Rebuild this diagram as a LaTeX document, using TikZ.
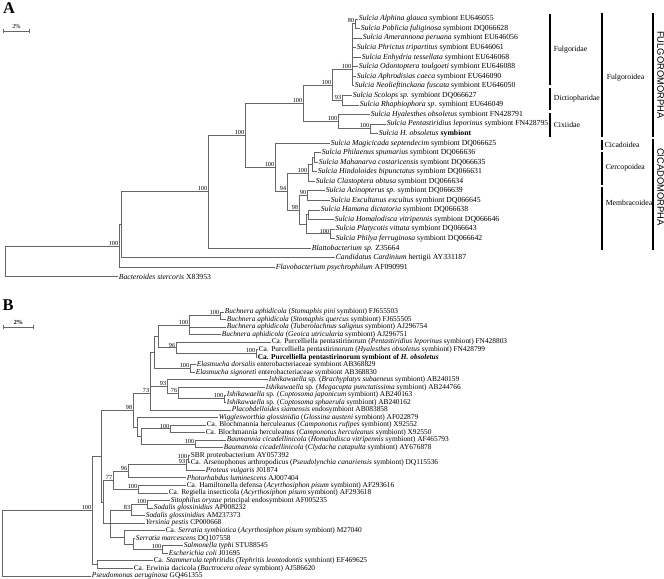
\documentclass[tikz,border=0pt]{standalone}
\usepackage{fontspec}
\setmainfont{Liberation Serif}
\setsansfont{Liberation Sans}
\usetikzlibrary{arrows.meta}

\tikzset{
  tree/.style={draw=black!60, line width=0.7pt},
  leafA/.style={anchor=west, inner sep=0.5pt, font=\fontsize{6.6}{6.6}\selectfont},
  leafB/.style={anchor=west, inner sep=0.5pt, font=\fontsize{6.3}{6.3}\selectfont},
  boot/.style={inner sep=0.5pt, font=\fontsize{5.3}{5.3}\selectfont},
  bar/.style={line width=1.6pt},
  cladename/.style={anchor=west, inner sep=0.5pt, font=\fontsize{6.6}{7}\selectfont},
  order/.style={rotate=-90, inner sep=0pt, font=\sffamily\fontsize{8}{8}\selectfont},
  panel/.style={inner sep=0pt, font=\bfseries\fontsize{14}{14}\selectfont}
}

\begin{document}
\begin{tikzpicture}[x=0.3mm, y=-0.3mm]
  \useasboundingbox (0,0) rectangle (664,579);

  % ---------- panel A ----------
  \node[panel] (labA) at (9,8) {A};
  \draw[tree, {Bar[width=4pt]}-{Bar[width=4pt]}] (3,31) -- (30,31) node[midway, above=1pt, boot] (scaleA) {2\%};

  \node[leafA] (a01) at (358,19.0) {\textit{Sulcia Alphina glauca} symbiont EU646055};
  \node[leafA] (a02) at (360,28.6) {\textit{Sulcia Poblicia fuliginosa} symbiont DQ066628};
  \node[leafA] (a03) at (362,38.1) {\textit{Sulcia Amerannona peruana} symbiont EU646056};
  \node[leafA] (a04) at (356,47.7) {\textit{Sulcia Phrictus tripartitus} symbiont EU646061};
  \node[leafA] (a05) at (361,57.2) {\textit{Sulcia Enhydria tessellata} symbiont EU646068};
  \node[leafA] (a06) at (358,66.8) {\textit{Sulcia Odontoptera toulgoeti} symbiont EU646088};
  \node[leafA] (a07) at (356,76.3) {\textit{Sulcia Aphrodisias caeca} symbiont EU646090};
  \node[leafA] (a08) at (354,85.9) {\textit{Sulcia Neolieftinckana fuscata} symbiont EU646050};
  \node[leafA] (a09) at (352,95.4) {\textit{Sulcia Scolops sp.} symbiont DQ066627};
  \node[leafA] (a10) at (359,105.0) {\textit{Sulcia Rhaphiophora sp.} symbiont EU646049};
  \node[leafA] (a11) at (370,114.5) {\textit{Sulcia Hyalesthes obsoletus} symbiont FN428791};
  \node[leafA] (a12) at (386,124.1) {\textit{Sulcia Pentastiridius leporinus} symbiont FN428795};
  \node[leafA] (a13) at (378,133.6) {\textit{Sulcia H. obsoletus} \textbf{symbiont}};
  \node[leafA] (a14) at (330,143.2) {\textit{Sulcia Magicicada septendecim} symbiont DQ066625};
  \node[leafA] (a15) at (321,152.7) {\textit{Sulcia Philaenus spumarius} symbiont DQ066636};
  \node[leafA] (a16) at (318,162.3) {\textit{Sulcia Mahanarva costaricensis} symbiont DQ066635};
  \node[leafA] (a17) at (317,171.8) {\textit{Sulcia Hindoloides bipunctatus} symbiont DQ066631};
  \node[leafA] (a18) at (315,181.4) {\textit{Sulcia Clastoptera obtusa} symbiont DQ066634};
  \node[leafA] (a19) at (325,190.9) {\textit{Sulcia Acinopterus sp.} symbiont DQ066639};
  \node[leafA] (a20) at (330,200.5) {\textit{Sulcia Excultanus excultus} symbiont DQ066645};
  \node[leafA] (a21) at (320,210.0) {\textit{Sulcia Hamana dictatoria} symbiont DQ066638};
  \node[leafA] (a22) at (334,219.6) {\textit{Sulcia Homalodisca vitripennis} symbiont DQ066646};
  \node[leafA] (a23) at (335,229.1) {\textit{Sulcia Platycotis vittata} symbiont DQ066643};
  \node[leafA] (a24) at (335,238.7) {\textit{Sulcia Philya ferruginosa} symbiont DQ066642};
  \node[leafA] (a25) at (311,248.2) {\textit{Blattobacterium sp.} Z35664};
  \node[leafA] (a26) at (335,257.8) {\textit{Candidatus Cardinium} hertigii AY331187};
  \node[leafA] (a27) at (275,267.3) {\textit{Flavobacterium psychrophilum} AF090991};
  \node[leafA] (a28) at (118,276.9) {\textit{Bacteroides stercoris} X83953};

  \coordinate[label={[boot]above left:80}] (n80) at (355,23.8);
  \coordinate[label={[boot]above left:100}] (nFul) at (352,69);
  \coordinate[label={[boot]above left:93}] (nDic) at (342,100.2);
  \coordinate[label={[boot]above left:100}] (nFD) at (332,85);
  \coordinate[label={[boot]above left:100}] (nCix2) at (370,128.8);
  \coordinate[label={[boot]above left:100}] (nCix) at (338,121.7);
  \coordinate[label={[boot]above left:100}] (nFulgo) at (303,103.3);
  \coordinate (nP1) at (314,157.5);
  \coordinate (nP2) at (312,164.6);
  \coordinate[label={[boot]above left:100}] (nCer) at (308,173);
  \coordinate[label={[boot]above left:90}] (n90) at (307,195.7);
  \coordinate (nHam) at (308,214.8);
  \coordinate[label={[boot]above left:100}] (nPla) at (330,233.9);
  \coordinate (nHP) at (306,224.3);
  \coordinate[label={[boot]above left:98}] (n98) at (299,210);
  \coordinate[label={[boot]above left:94}] (n94) at (287,191.5);
  \coordinate[label={[boot]above left:100}] (nCic) at (275,167.3);
  \coordinate[label={[boot]above left:100}] (nSul) at (245,135.3);
  \coordinate[label={[boot]above left:100}] (nSB) at (208,191.8);
  \coordinate (nSBC) at (121,224.8);
  \coordinate[label={[boot]above left:100}] (nSBCF) at (119,246);
  \coordinate (nRootA) at (5,261.4);

  \foreach \p/\c in {n80/a01.west, n80/a02.west, nFul/n80, nFul/a03.west, nFul/a04.west,
      nFul/a05.west, nFul/a06.west, nFul/a07.west, nFul/a08.west, nDic/a09.west, nDic/a10.west,
      nFD/nFul, nFD/nDic, nCix2/a12.west, nCix2/a13.west, nCix/a11.west, nCix/nCix2,
      nFulgo/nFD, nFulgo/nCix, nP1/a15.west, nP1/a16.west, nP2/nP1, nP2/a17.west,
      nCer/nP2, nCer/a18.west, n90/a19.west, n90/a20.west, nHam/a21.west, nHam/a22.west,
      nPla/a23.west, nPla/a24.west, nHP/nHam, nHP/nPla, n98/n90, n98/nHP, n94/nCer, n94/n98,
      nCic/a14.west, nCic/n94, nSul/nFulgo, nSul/nCic, nSB/nSul, nSB/a25.west,
      nSBC/nSB, nSBC/a26.west, nSBCF/nSBC, nSBCF/a27.west, nRootA/nSBCF, nRootA/a28.west}
    \draw[tree] (\p) |- (\c);

  % clade bars
  \draw[bar] (550,14) -- (550,85);
  \node[cladename] (cFulgoridae) at (553,49.5) {Fulgoridae};
  \draw[bar] (550,88) -- (550,110);
  \node[cladename] (cDictio) at (553,99) {Dictiopharidae};
  \draw[bar] (550,113) -- (550,137);
  \node[cladename] (cCixi) at (553,125) {Cixiidae};
  \draw[bar] (602,13) -- (602,137);
  \node[cladename] (cFulgoroidea) at (606,78) {Fulgoroidea};
  \draw[bar] (602,140) -- (602,150);
  \node[cladename] (cCicadoidea) at (604,145) {Cicadoidea};
  \draw[bar] (602,152) -- (602,185);
  \node[cladename] (cCercopoidea) at (605,168) {Cercopoidea};
  \draw[bar] (602,187) -- (602,250);
  \node[cladename] (cMembracoidea) at (605,203) {Membracoidea};
  \draw[bar] (653,13) -- (653,137);
  \node[order] (oFulgoro) at (660.5,75) {FULGOROMORPHA};
  \draw[bar] (653,139) -- (653,250);
  \node[order] (oCicado) at (660.5,187) {CICADOMORPHA};

  % ---------- panel B ----------
  \node[panel] (labB) at (8,305) {B};
  \draw[tree, {Bar[width=4pt]}-{Bar[width=4pt]}] (3,327) -- (34,327) node[midway, above=1pt, boot, font=\bfseries\fontsize{5.3}{5.3}\selectfont] (scaleB) {2\%};

  \node[leafB] (b01) at (224,312.0) {\textit{Buchnera aphidicola} (\textit{Stomaphis pini} symbiont) FJ655503};
  \node[leafB] (b02) at (226,319.5) {\textit{Buchnera aphidicola} (\textit{Stomaphis quercus} symbiont) FJ655505};
  \node[leafB] (b03) at (226,327.1) {\textit{Buchnera aphidicola} (\textit{Tuberolachnus salignus} symbiont) AJ296754};
  \node[leafB] (b04) at (221,334.6) {\textit{Buchnera aphidicola} (\textit{Geoica utricularia} symbiont) AJ296751};
  \node[leafB] (b05) at (271,342.2) {Ca. Purcelliella pentastirinorum (\textit{Pentastiridius leporinus} symbiont) FN428803};
  \node[leafB] (b06) at (258,349.7) {Ca. Purcelliella pentastirinorum (\textit{Hyalesthes obsoletus} symbiont) FN428799};
  \node[leafB] (b07) at (257,357.3) {\textbf{Ca. Purcelliella pentastirinorum symbiont of \textit{H. obsoletus}}};
  \node[leafB] (b08) at (196,364.8) {\textit{Elasmucha dorsalis} enterobacteriaceae symbiont AB368829};
  \node[leafB] (b09) at (195,372.3) {\textit{Elasmucha signoreti} enterobacteriaceae symbiont AB368830};
  \node[leafB] (b10) at (268,379.9) {\textit{Ishikawaella} sp. (\textit{Brachyplatys subaeneus} symbiont) AB240159};
  \node[leafB] (b11) at (265,387.4) {\textit{Ishikawaella} sp. (\textit{Megacopta punctatissima} symbiont) AB244766};
  \node[leafB] (b12) at (226,395.0) {\textit{Ishikawaella} sp. (\textit{Coptosoma japonicum} symbiont) AB240163};
  \node[leafB] (b13) at (226,402.5) {\textit{Ishikawaella} sp. (\textit{Coptosoma sphaerula} symbiont) AB240162};
  \node[leafB] (b14) at (231,410.1) {\textit{Placobdelloides siamensis} endosymbiont AB083858};
  \node[leafB] (b15) at (218,417.6) {\textit{Wigglesworthia glossinidia} (\textit{Glossina austeni} symbiont) AF022879};
  \node[leafB] (b16) at (206,425.1) {Ca. Blochmannia herculeanus (\textit{Camponotus rufipes} symbiont) X92552};
  \node[leafB] (b17) at (205,432.7) {Ca. Blochmannia herculeanus (\textit{Camponotus herculeanus} symbiont) X92550};
  \node[leafB] (b18) at (226,440.2) {\textit{Baumannia cicadellinicola} (\textit{Homalodisca vitripennis} symbiont) AF465793};
  \node[leafB] (b19) at (223,447.8) {\textit{Baumannia cicadellinicola} (\textit{Clydacha catapulta} symbiont) AY676878};
  \node[leafB] (b20) at (190,455.3) {SBR proteobacterium AY057392};
  \node[leafB] (b21) at (190,462.9) {Ca. Arsenophonus arthropodicus (\textit{Pseudolynchia canariensis} symbiont) DQ115536};
  \node[leafB] (b22) at (205,470.4) {\textit{Proteus vulgaris} J01874};
  \node[leafB] (b23) at (186,477.9) {\textit{Photorhabdus luminescens} AJ007404};
  \node[leafB] (b24) at (186,485.5) {Ca. Hamiltonella defensa (\textit{Acyrthosiphon pisum} symbiont) AF293616};
  \node[leafB] (b25) at (168,493.0) {Ca. Regiella insecticola (\textit{Acyrthosiphon pisum} symbiont) AF293618};
  \node[leafB] (b26) at (170,500.6) {\textit{Sitophilus oryzae} principal endosymbiont AF005235};
  \node[leafB] (b27) at (153,508.1) {\textit{Sodalis glossinidius} AP008232};
  \node[leafB] (b28) at (145,515.7) {\textit{Sodalis glossinidius} AM237373};
  \node[leafB] (b29) at (145,523.2) {\textit{Yersinia pestis} CP000668};
  \node[leafB] (b30) at (165,530.7) {Ca. \textit{Serratia symbiotica} (\textit{Acyrthosiphon pisum} symbiont) M27040};
  \node[leafB] (b31) at (135,538.3) {\textit{Serratia marcescens} DQ107558};
  \node[leafB] (b32) at (183,545.8) {\textit{Salmonella typhi} STU88545};
  \node[leafB] (b33) at (168,553.4) {\textit{Escherichia coli} J01695};
  \node[leafB] (b34) at (153,560.9) {Ca. \textit{Stammerula tephritidis} (\textit{Tephritis leontodontis} symbiont) EF469625};
  \node[leafB] (b35) at (133,568.5) {Ca. Erwinia dacicola (\textit{Bactrocera oleae} symbiont) AJ586620};
  \node[leafB] (b36) at (91,576.0) {\textit{Pseudomonas aeruginosa} GQ461355};

  \coordinate[label={[boot]above left:100}] (bP) at (220,315.8);
  \coordinate[label={[boot]above left:100}] (bBuc) at (189,325.2);
  \coordinate[label={[boot]above left:100}] (bPH) at (256,353.5);
  \coordinate[label={[boot]above left:96}] (bPur) at (176,347.9);
  \coordinate (bBP) at (158,336.5);
  \coordinate[label={[boot]above left:100}] (bEla) at (190,368.6);
  \coordinate (bBPE) at (154,352.5);
  \coordinate[label={[boot]above left:100}] (bCop) at (224,398.7);
  \coordinate[label={[boot]above left:76}] (b76) at (178,393.1);
  \coordinate[label={[boot]above left:93}] (bIsh) at (167,386.5);
  \coordinate[label={[boot]above left:73}] (b73) at (150,393);
  \coordinate[label={[boot]above left:100}] (bBlo) at (170,428.9);
  \coordinate[label={[boot]above left:100}] (bBau) at (195,444.0);
  \coordinate (bBB) at (141,436.5);
  \coordinate (bW) at (137,427);
  \coordinate[label={[boot]above left:98}] (b98) at (133,410);
  \coordinate[label={[boot]above left:100}] (bSBR) at (188,459.1);
  \coordinate[label={[boot]above left:93}] (b93) at (186,464.8);
  \coordinate[label={[boot]above left:96}] (b96) at (128,471.4);
  \coordinate[label={[boot]above left:100}] (bHam) at (138,489.2);
  \coordinate[label={[boot]above left:77}] (b77) at (113,480.3);
  \coordinate[label={[boot]above left:100}] (bSit) at (147,504.4);
  \coordinate[label={[boot]above left:83}] (b83) at (131,510);
  \coordinate[label={[boot]above left:100}] (bSal) at (162,549.6);
  \coordinate (bSM) at (133,544.0);
  \coordinate (bSer) at (124,537.4);
  \coordinate (bEnt) at (110,523.7);
  \coordinate (bQ) at (103,502);
  \coordinate (bMain) at (101,456);
  \coordinate (bStam) at (97,564.7);
  \coordinate[label={[boot]above left:100}] (bTop) at (92,510.3);
  \coordinate (bRoot) at (2,543);

  \foreach \p/\c in {bP/b01.west, bP/b02.west, bBuc/bP, bBuc/b03.west, bBuc/b04.west,
      bPH/b06.west, bPH/b07.west, bPur/b05.west, bPur/bPH, bBP/bBuc, bBP/bPur,
      bEla/b08.west, bEla/b09.west, bBPE/bBP, bBPE/bEla, bCop/b12.west, bCop/b13.west,
      b76/b11.west, b76/bCop, bIsh/b10.west, bIsh/b76, b73/bBPE, b73/bIsh, b73/b14.west,
      bBlo/b16.west, bBlo/b17.west, bBau/b18.west, bBau/b19.west, bBB/bBlo, bBB/bBau,
      bW/b15.west, bW/bBB, b98/b73, b98/bW, bSBR/b20.west, bSBR/b21.west, b93/bSBR, b93/b22.west,
      b96/b93, b96/b23.west, bHam/b24.west, bHam/b25.west, b77/b96, b77/bHam,
      bSit/b26.west, bSit/b27.west, b83/bSit, b83/b28.west, bSal/b32.west, bSal/b33.west,
      bSM/b31.west, bSM/bSal, bSer/b30.west, bSer/bSM, bEnt/b83, bEnt/b29.west, bEnt/bSer,
      bQ/b77, bQ/bEnt, bMain/b98, bMain/bQ, bStam/b34.west, bStam/b35.west,
      bTop/bMain, bTop/bStam, bRoot/bTop, bRoot/b36.west}
    \draw[tree] (\p) |- (\c);
\end{tikzpicture}
\end{document}
